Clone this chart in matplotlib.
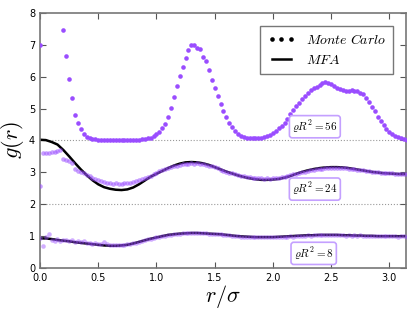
import numpy as np
import matplotlib
matplotlib.use('Agg')
import matplotlib.pyplot as plt

plt.rcParams['mathtext.fontset'] = 'cm'

# offsets used to stack the curves
offsets = [0, 2, 4]
densities = [8, 24, 56]

# Monte Carlo g(r), sampled every 0.025 sigma from r = 0
mc_r = np.arange(127) * 0.025

mc_8 = [0.93, 0.69, 0.98, 1.05, 0.86, 0.84, 0.90, 0.85, 0.87, 0.86,
        0.84, 0.88, 0.81, 0.83, 0.80, 0.85, 0.79, 0.78, 0.76, 0.77,
        0.74, 0.73, 0.80, 0.76, 0.72, 0.71, 0.70, 0.70, 0.71, 0.72,
        0.74, 0.76, 0.78, 0.79, 0.81, 0.84, 0.86, 0.89, 0.91, 0.93,
        0.95, 0.97, 0.99, 1.01, 1.03, 1.04, 1.06, 1.07, 1.07, 1.08,
        1.09, 1.09, 1.10, 1.09, 1.09, 1.10, 1.08, 1.08, 1.07, 1.07,
        1.06, 1.06, 1.05, 1.04, 1.03, 1.02, 1.01, 1.00, 0.99, 0.98,
        0.98, 0.97, 0.97, 0.96, 0.97, 0.96, 0.95, 0.96, 0.96, 0.95,
        0.96, 0.97, 0.96, 0.97, 0.98, 0.98, 0.99, 0.98, 1.00, 1.00,
        1.01, 1.00, 1.02, 1.01, 1.02, 1.03, 1.02, 1.03, 1.02, 1.03,
        1.04, 1.02, 1.03, 1.02, 1.03, 1.01, 1.02, 1.01, 1.03, 1.01,
        1.02, 1.01, 1.00, 1.01, 1.00, 1.01, 0.99, 1.00, 0.99, 1.00,
        0.99, 1.00, 0.99, 0.98, 0.99, 0.99, 0.98]

mc_24 = [0.58, 1.59, 1.60, 1.61, 1.63, 1.65, 1.67, 1.69, 1.41, 1.38,
         1.35, 1.30, 1.09, 1.05, 1.02, 0.96, 0.92, 0.88, 0.83, 0.79,
         0.75, 0.72, 0.69, 0.67, 0.65, 0.64, 0.65, 0.64, 0.64, 0.65,
         0.66, 0.67, 0.69, 0.71, 0.74, 0.78, 0.81, 0.84, 0.89, 0.95,
         0.99, 1.03, 1.07, 1.10, 1.13, 1.16, 1.19, 1.21, 1.23, 1.25,
         1.26, 1.27, 1.28, 1.27, 1.28, 1.27, 1.25, 1.23, 1.21, 1.18,
         1.15, 1.12, 1.08, 1.05, 1.02, 0.99, 0.96, 0.93, 0.91, 0.89,
         0.87, 0.85, 0.84, 0.83, 0.82, 0.81, 0.81, 0.80, 0.81, 0.80,
         0.81, 0.82, 0.82, 0.84, 0.86, 0.88, 0.90, 0.93, 0.95, 0.98,
         1.00, 1.02, 1.04, 1.06, 1.07, 1.09, 1.10, 1.11, 1.12, 1.12,
         1.13, 1.13, 1.13, 1.12, 1.13, 1.12, 1.11, 1.10, 1.09, 1.08,
         1.07, 1.06, 1.05, 1.03, 1.02, 1.01, 1.00, 0.99, 0.98, 0.97,
         0.96, 0.96, 0.95, 0.95, 0.94, 0.94, 0.94]

nan = np.nan
mc_56 = [3.00, nan, nan, nan, nan, nan, nan, nan, 3.47, 2.66,
         1.93, 1.34, 0.81, 0.54, 0.35, 0.20, 0.12, 0.07, 0.04, 0.03,
         0.02, 0.01, 0.01, 0.01, 0.00, 0.00, 0.00, 0.00, 0.00, 0.00,
         0.00, 0.01, 0.01, 0.01, 0.02, 0.03, 0.04, 0.06, 0.09, 0.13,
         0.19, 0.27, 0.38, 0.52, 0.74, 1.02, 1.35, 1.70, 2.03, 2.30,
         2.60, 2.84, 2.99, 2.99, 2.90, 2.88, 2.62, 2.48, 2.20, 1.90,
         1.66, 1.41, 1.15, 0.92, 0.73, 0.55, 0.42, 0.30, 0.20, 0.14,
         0.10, 0.08, 0.07, 0.06, 0.06, 0.07, 0.08, 0.11, 0.14, 0.18,
         0.24, 0.31, 0.38, 0.45, 0.54, 0.68, 0.82, 0.96, 1.08, 1.19,
         1.30, 1.40, 1.50, 1.59, 1.65, 1.69, 1.75, 1.80, 1.82, 1.80,
         1.76, 1.70, 1.64, 1.60, 1.57, 1.55, 1.55, 1.57, 1.56, 1.55,
         1.50, 1.45, 1.33, 1.20, 1.06, 0.91, 0.75, 0.61, 0.49, 0.37,
         0.27, 0.20, 0.14, 0.10, 0.06, 0.03, 0.02]

# mean field approximation, sampled every 0.05 sigma from r = 0
mfa_r = np.arange(64) * 0.05

mfa_8 = [0.92, 0.92, 0.90, 0.87, 0.85, 0.83, 0.80, 0.78, 0.76, 0.74,
         0.72, 0.70, 0.69, 0.69, 0.70, 0.72, 0.76, 0.81, 0.86, 0.91,
         0.95, 0.99, 1.03, 1.05, 1.07, 1.08, 1.09, 1.09, 1.08, 1.07,
         1.06, 1.05, 1.03, 1.01, 0.99, 0.98, 0.97, 0.96, 0.96, 0.96,
         0.96, 0.97, 0.98, 0.99, 1.00, 1.01, 1.02, 1.02, 1.03, 1.03,
         1.03, 1.03, 1.02, 1.02, 1.01, 1.01, 1.00, 1.00, 0.99, 0.99,
         0.99, 0.99, 0.99, 0.99]

mfa_24 = [2.02, 2.01, 1.95, 1.87, 1.70, 1.50, 1.29, 1.09, 0.91, 0.75,
          0.62, 0.53, 0.48, 0.45, 0.44, 0.46, 0.52, 0.62, 0.74, 0.86,
          0.95, 1.04, 1.13, 1.21, 1.27, 1.31, 1.32, 1.31, 1.28, 1.23,
          1.16, 1.09, 1.02, 0.96, 0.90, 0.85, 0.81, 0.78, 0.76, 0.76,
          0.77, 0.79, 0.83, 0.88, 0.95, 1.01, 1.06, 1.10, 1.13, 1.15,
          1.16, 1.16, 1.15, 1.13, 1.10, 1.07, 1.04, 1.01, 0.99, 0.97,
          0.96, 0.95, 0.94, 0.94]

purple = '#9a4dff'
mc_alpha = [0.45, 0.55, 1.0]

fig = plt.figure(figsize=(4.15, 3.12), dpi=100)
ax = fig.add_axes([0.0964, 0.142, 0.8816, 0.816])

for y in [2, 4]:
    ax.axhline(y, color='#999999', ls=':', lw=0.8, zorder=1)

ax.plot(mfa_r, np.array(mfa_8) + offsets[0], color='black', lw=1.8, zorder=2)
ax.plot(mfa_r, np.array(mfa_24) + offsets[1], color='black', lw=1.8, zorder=2)

for vals, off, a in zip([mc_8, mc_24, mc_56], offsets, mc_alpha):
    ax.plot(mc_r, np.array(vals) + off, 'o', color=purple, alpha=a,
            ms=3.3, mew=0, zorder=3)

# legend handles in black
ax.plot([], [], 'o', color='black', ms=3.3, mew=0, label=r'$Monte\ Carlo$')
ax.plot([], [], '-', color='black', lw=1.8, label=r'$MFA$')
leg = ax.legend(loc='upper right', numpoints=3, fontsize=10, fancybox=False,
                handlelength=2.0, borderpad=0.5, labelspacing=0.4,
                bbox_to_anchor=(0.985, 0.975))
leg.get_frame().set_edgecolor('#555555')

label_pos = [(2.35, 0.45), (2.36, 2.47), (2.36, 4.43)]
for d, (lx, ly) in zip(densities, label_pos):
    ax.text(lx, ly, r'$\varrho R^2 = %d$' % d, fontsize=8, ha='center',
            va='center', zorder=5,
            bbox=dict(boxstyle='round,pad=0.25', fc='white',
                      ec='#c4a0ff', lw=1.2))

ax.set_xlim(0, np.pi)
ax.set_ylim(0, 8)
ax.set_xticks([0.0, 0.5, 1.0, 1.5, 2.0, 2.5, 3.0])
ax.set_yticks(range(9))
ax.tick_params(direction='in', top=True, right=True, labelsize=7,
               length=4, color='#555555')
ax.tick_params(axis='x', pad=4)
for s in ax.spines.values():
    s.set_color('#777777')
    s.set_linewidth(1.2)

ax.set_xlabel(r'$r/\sigma$', fontsize=16, labelpad=0)
ax.set_ylabel(r'$g(r)$', fontsize=16, labelpad=2)

fig.savefig('out.png', dpi=100)
